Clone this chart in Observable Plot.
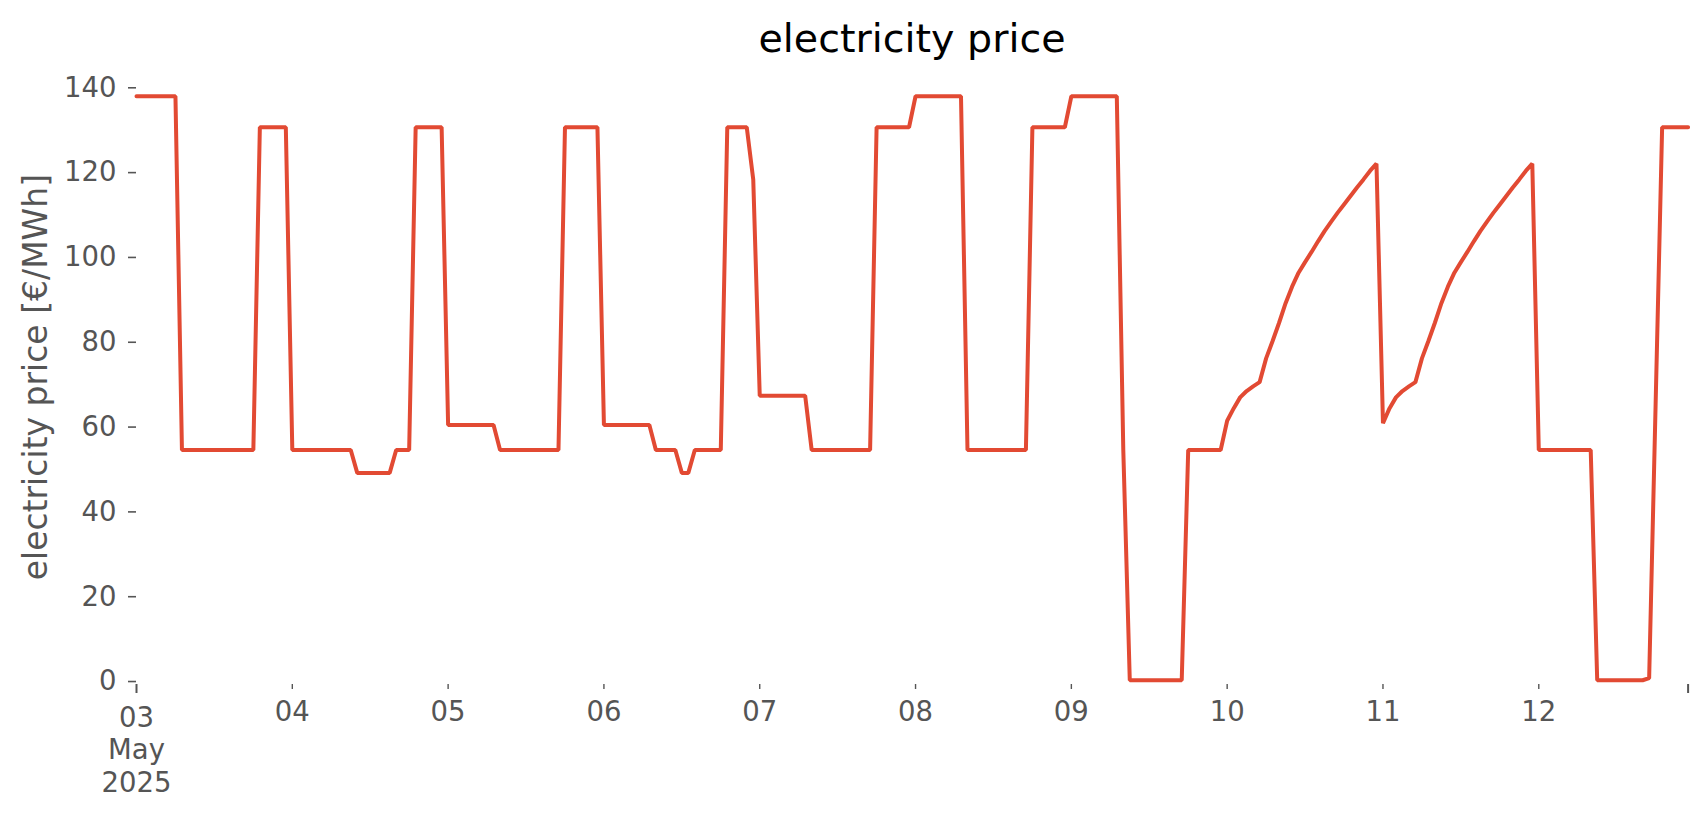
<!DOCTYPE html>
<html><head><meta charset="utf-8">
<script src="https://cdn.jsdelivr.net/npm/d3@7"></script>
<script src="https://cdn.jsdelivr.net/npm/@observablehq/plot@0.6"></script>
<style>
body{margin:0;background:#fff;font-family:"DejaVu Sans",sans-serif;}
#title{position:relative;height:60px;}
#title span{position:absolute;left:136px;width:1552px;text-align:center;top:15px;font-size:39.6px;color:#000;line-height:normal;white-space:nowrap;font-family:"DejaVu Sans",sans-serif;}
</style></head><body>
<div id="title"><span>electricity price</span></div>
<div id="chart"></div>
<script>
// hourly electricity price [€/MWh], one array per day (00:00 .. 23:00 UTC)
const may03 = [138.0,138.0,138.0,138.0,138.0,138.0,138.0,54.6,54.6,54.6,54.6,54.6,54.6,54.6,54.6,54.6,54.6,54.6,54.6,130.7,130.7,130.7,130.7,130.7];
const may04 = [54.6,54.6,54.6,54.6,54.6,54.6,54.6,54.6,54.6,54.6,49.2,49.2,49.2,49.2,49.2,49.2,54.6,54.6,54.6,130.7,130.7,130.7,130.7,130.7];
const may05 = [60.5,60.5,60.5,60.5,60.5,60.5,60.5,60.5,54.6,54.6,54.6,54.6,54.6,54.6,54.6,54.6,54.6,54.6,130.7,130.7,130.7,130.7,130.7,130.7];
const may06 = [60.5,60.5,60.5,60.5,60.5,60.5,60.5,60.5,54.6,54.6,54.6,54.6,49.2,49.2,54.6,54.6,54.6,54.6,54.6,130.7,130.7,130.7,130.7,118.4];
const may07 = [67.4,67.4,67.4,67.4,67.4,67.4,67.4,67.4,54.6,54.6,54.6,54.6,54.6,54.6,54.6,54.6,54.6,54.6,130.7,130.7,130.7,130.7,130.7,130.7];
const may08 = [138.0,138.0,138.0,138.0,138.0,138.0,138.0,138.0,54.6,54.6,54.6,54.6,54.6,54.6,54.6,54.6,54.6,54.6,130.7,130.7,130.7,130.7,130.7,130.7];
const may09 = [138.0,138.0,138.0,138.0,138.0,138.0,138.0,138.0,54.6,0.3,0.3,0.3,0.3,0.3,0.3,0.3,0.3,0.3,54.6,54.6,54.6,54.6,54.6,54.6];
const may10 = [61.5,64.4,67.0,68.5,69.6,70.6,76.2,80.3,84.6,89.2,93.1,96.4,98.9,101.3,103.8,106.2,108.4,110.5,112.5,114.5,116.5,118.4,120.4,122.1];
const may11 = [60.9,64.4,67.0,68.5,69.6,70.6,76.2,80.3,84.6,89.2,93.1,96.4,98.9,101.3,103.8,106.2,108.4,110.5,112.5,114.5,116.5,118.4,120.4,122.1];
const may12 = [54.6,54.6,54.6,54.6,54.6,54.6,54.6,54.6,54.6,0.3,0.3,0.3,0.3,0.3,0.3,0.3,0.3,0.8,65.6,130.7,130.7,130.7,130.7,130.7];

const dayStarts = ["2025-05-03","2025-05-04","2025-05-05","2025-05-06","2025-05-07","2025-05-08","2025-05-09","2025-05-10","2025-05-11","2025-05-12"];
const tickLabels = ["03\nMay\n2025","04","05","06","07","08","09","10","11","12"];
const majorTicks = ["2025-05-03T00:00:00Z","2025-05-12T23:00:00Z"];
const yTicks = [0,20,40,60,80,100,120,140];

const days = [may03,may04,may05,may06,may07,may08,may09,may10,may11,may12];
const data = days.flatMap((vals, d) => vals.map((v, h) => ({
  time: new Date(Date.parse(dayStarts[d] + "T00:00:00Z") + h * 3600000),
  price: v
})));
const labelRows = dayStarts.map((d, i) => ({date: new Date(d + "T00:00:00Z"), label: tickLabels[i]}));
const minorDates = dayStarts.slice(1).map(d => new Date(d + "T00:00:00Z"));
const majorDates = majorTicks.map(d => new Date(d));

const chart = Plot.plot({
  width: 1706,
  height: 755,
  marginLeft: 136,
  marginRight: 18.4,
  marginTop: 27.3,
  marginBottom: 131,
  x: {type: "utc", domain: [data[0].time, data[data.length - 1].time]},
  y: {domain: [-0.7, 140]},
  style: {fontFamily: "DejaVu Sans", color: "#555", background: "#fff", overflow: "visible"},
  marks: [
    Plot.axisY({ticks: yTicks, tickSize: 8, tickPadding: 12, fontSize: 27.5, label: null, stroke: "#555", strokeWidth: 1.6, fill: "#555"}),
    Plot.axisX({ticks: minorDates, tickSize: 5, tickFormat: () => "", label: null, stroke: "#555", strokeWidth: 1.4}),
    Plot.axisX({ticks: majorDates, tickSize: 9, tickFormat: () => "", label: null, stroke: "#555", strokeWidth: 2}),
    Plot.text(labelRows.slice(0, 1), {x: "date", text: "label", frameAnchor: "bottom", lineAnchor: "top", dy: 19.5, fontSize: 27.5, lineHeight: 1.18, fill: "#555"}),
    Plot.text(labelRows.slice(1), {x: "date", text: "label", frameAnchor: "bottom", lineAnchor: "top", dy: 17.2, fontSize: 27.5, fill: "#555"}),
    Plot.text(["electricity price [€/MWh]"], {frameAnchor: "left", textAnchor: "middle", lineAnchor: "middle", rotate: -90, dx: -100.5, dy: -9, fontSize: 33, fill: "#555"}),
    Plot.line(data, {x: "time", y: "price", stroke: "#E24A33", strokeWidth: 4, strokeLinejoin: "miter"})
  ]
});
document.getElementById("chart").appendChild(chart);
</script>
</body></html>
